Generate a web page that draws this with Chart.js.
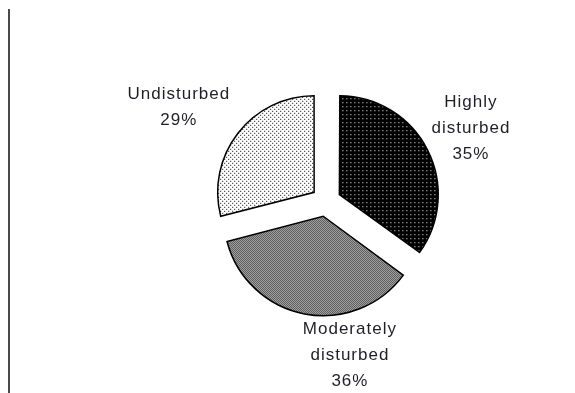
<!DOCTYPE html>
<html>
<head>
<meta charset="utf-8">
<script src="https://cdn.jsdelivr.net/npm/chart.js@4/dist/chart.umd.min.js"></script>
<style>
  html, body { margin: 0; padding: 0; background: #fff; }
  #wrap { position: relative; width: 575px; height: 393px; }
  #rule { position: absolute; left: 8px; top: 9px; bottom: 0; width: 2px; background: #4a4a4a; }
  canvas { position: absolute; left: 0; top: 0; }
</style>
</head>
<body>
<div id="wrap">
  <canvas id="pieChart" width="575" height="393"></canvas>
  <div id="rule"></div>
</div>
<script>
    // Disturbance classes, clockwise from 12 o'clock
    const categories = [['Highly', 'disturbed'], ['Moderately', 'disturbed'], ['Undisturbed']];
    const shares = [35, 36, 29];

    // fill patterns (small tiles repeated)
    function makePattern(size, bg, fg, dots) {
        const c = document.createElement('canvas');
        c.width = size; c.height = size;
        const g = c.getContext('2d');
        g.fillStyle = bg;
        g.fillRect(0, 0, size, size);
        g.fillStyle = fg;
        dots.forEach(d => g.fillRect(d[0], d[1], 1, 1));
        return g.createPattern(c, 'repeat');
    }

    const ctx = document.getElementById('pieChart').getContext('2d');
    const darkDots = makePattern(4, '#000', '#fff', [[1, 1]]);
    const checker = makePattern(4, '#fff', '#000', [[0, 0], [2, 0], [1, 1], [3, 1], [0, 2], [2, 2], [1, 3], [3, 3]]);
    const lightDots = makePattern(4, '#fff', '#000', [[0, 0], [2, 2]]);

    // label nudges (px) after radial placement
    const labelNudge = [[-3, 2], [55, -9], [-16, 8]];

    const outsideLabels = {
        id: 'outsideLabels',
        afterDatasetsDraw(chart) {
            const c = chart.ctx;
            const meta = chart.getDatasetMeta(0);
            const data = chart.data.datasets[0].data;
            const total = data.reduce((a, b) => a + b, 0);
            c.save();
            c.font = '17px "Liberation Sans", Arial, sans-serif';
            c.letterSpacing = '1px';
            c.fillStyle = '#1f1f28';
            c.textAlign = 'center';
            c.textBaseline = 'middle';
            meta.data.forEach((arc, i) => {
                const mid = (arc.startAngle + arc.endAngle) / 2;
                const dist = arc.outerRadius + 70;
                const x = arc.x + Math.cos(mid) * dist + labelNudge[i][0];
                const y = arc.y + Math.sin(mid) * dist + labelNudge[i][1];
                const lines = categories[i].concat([Math.round(data[i] / total * 100) + '%']);
                const lh = 26;
                const top = y - (lines.length - 1) * lh / 2;
                lines.forEach((t, k) => c.fillText(t, x, top + k * lh));
            });
            c.restore();
        }
    };

    const pieChart = new Chart(ctx, {
        type: 'pie',
        data: {
            labels: categories.map(l => l.join(' ')),
            datasets: [{
                data: shares,
                backgroundColor: [darkDots, checker, lightDots],
                borderColor: '#000',
                borderWidth: 1.5,
                borderJoinStyle: 'miter',
                offset: 60
            }]
        },
        options: {
            responsive: false,
            animation: false,
            devicePixelRatio: 1,
            radius: 96,
            layout: {
                padding: { left: 77, right: 0, top: 10, bottom: 0 }
            },
            plugins: {
                legend: { display: false },
                tooltip: { enabled: false }
            }
        },
        plugins: [outsideLabels]
    });
</script>
</body>
</html>
